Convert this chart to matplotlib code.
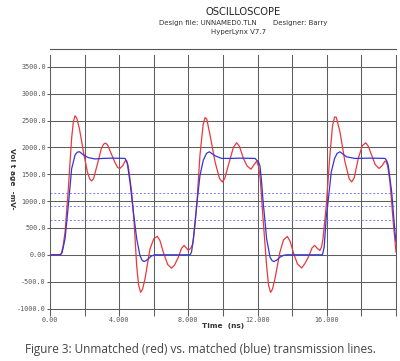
import matplotlib
matplotlib.use('Agg')
import matplotlib.pyplot as plt
from matplotlib.lines import Line2D

# unmatched line (red): time in ns, voltage in mV
red_t = [0.0, 0.55, 0.65, 0.75, 0.87, 1.06, 1.25, 1.35, 1.45, 1.55, 1.70, 1.93, 2.16, 2.30, 2.41, 2.52,
         2.70, 2.97, 3.10, 3.20, 3.32, 3.45, 3.74, 3.90, 4.03, 4.20, 4.35, 4.42, 4.53, 4.72, 4.86, 5.01,
         5.12, 5.24, 5.35, 5.49, 5.78, 6.00, 6.20, 6.35, 6.55, 6.80, 7.03, 7.20, 7.42, 7.60, 7.75, 7.90,
         8.00, 8.15, 8.25, 8.36, 8.48, 8.67, 8.85, 8.96, 9.06, 9.25, 9.54, 9.80, 9.96, 10.10, 10.31, 10.60,
         10.79, 10.95, 11.18, 11.40, 11.62, 11.80, 11.95, 12.05, 12.15, 12.33, 12.52, 12.63, 12.75, 12.86,
         13.00, 13.29, 13.50, 13.72, 13.88, 14.06, 14.30, 14.55, 14.72, 14.93, 15.15, 15.30, 15.45, 15.60,
         15.70, 15.78, 15.97, 16.18, 16.33, 16.45, 16.55, 16.76, 17.05, 17.30, 17.44, 17.58, 17.82, 18.05,
         18.25, 18.40, 18.59, 18.80, 19.02, 19.20, 19.35, 19.42, 19.52, 19.65, 19.84, 20.0]
red_v = [0, 0, 20, 150, 420, 1230, 2170, 2480, 2590, 2540, 2350, 1920, 1545, 1410, 1376, 1420,
         1640, 1980, 2060, 2080, 2050, 1950, 1730, 1630, 1605, 1660, 1750, 1760, 1640, 1170, 610, -200,
         -560, -700, -640, -450, 110, 300, 345, 270, 50, -180, -250, -190, -45, 120, 175, 120,
         80, 130, 200, 490, 920, 1860, 2420, 2555, 2530, 2230, 1730, 1420, 1357, 1420, 1670, 2000,
         2086, 2020, 1794, 1650, 1594, 1680, 1745, 1650, 1420, 610, -200, -560, -700, -640,
         -450, 50, 280, 342, 250, 50, -170, -245, -170, -45, 130, 175, 120, 80,
         150, 300, 920, 1860, 2400, 2565, 2560, 2290, 1730, 1410, 1357, 1430, 1794, 2030,
         2086, 2020, 1856, 1680, 1607, 1660, 1740, 1745, 1650, 1357, 610, 50]

# matched line (blue)
blue_t = [0.0, 0.60, 0.70, 0.87, 1.06, 1.25, 1.45, 1.58, 1.70, 1.93, 2.21, 2.60, 3.08, 3.60, 4.34, 4.47,
          4.62, 4.82, 5.01, 5.20, 5.32, 5.43, 5.55, 5.68, 5.85, 6.05, 7.00, 8.10, 8.18, 8.29, 8.48, 8.67,
          8.86, 9.05, 9.21, 9.38, 9.54, 9.92, 10.5, 11.0, 11.85, 11.95, 12.05, 12.14, 12.23, 12.33, 12.43,
          12.52, 12.72, 12.84, 12.95, 13.10, 13.29, 13.50, 13.68, 15.0, 15.75, 15.85, 15.97, 16.07, 16.26,
          16.45, 16.60, 16.76, 16.95, 17.15, 17.63, 18.5, 19.36, 19.45, 19.55, 19.75, 19.94, 20.0]
blue_v = [0, 0, 40, 300, 920, 1600, 1860, 1910, 1920, 1860, 1810, 1785, 1795, 1800, 1795, 1700,
          1360, 800, 300, -15, -100, -125, -110, -75, -25, 0, 0, 0, 50, 300, 920, 1480,
          1760, 1890, 1918, 1880, 1843, 1795, 1795, 1800, 1795, 1760, 1730, 1650, 1357, 950, 620,
          300, -45, -110, -125, -100, -45, -10, 0, 0, 0, 150, 700, 980, 1545,
          1794, 1890, 1918, 1870, 1824, 1794, 1800, 1795, 1760, 1669, 1170, 420, 250]

thresholds = [1150, 900, 650]
x_grid = list(range(0, 21, 2))
x_labels = {0: '0.00', 4: '4.000', 8: '8.000', 12: '12.000', 16: '16.000'}
y_ticks = [-1000, -500, 0, 500, 1000, 1500, 2000, 2500, 3000, 3500]
y_labels = ['-1000.0', '-500.0', '0.00', '500.0', '1000.0', '1500.0', '2000.0', '2500.0', '3000.0', '3500.0']

fig = plt.figure(figsize=(4.0, 3.61), dpi=100)
ax = fig.add_axes([0.125, 0.1454, 0.865, 0.7022])
gc = '#5e5e5e'

for y in thresholds:
    ax.axhline(y, color='#7f7ff0', lw=0.7, ls=(0, (2, 2)), zorder=2)
ax.plot(red_t, red_v, color='#e8393c', lw=0.9, zorder=3)
ax.plot(blue_t, blue_v, color='#3535d8', lw=0.9, zorder=4)

ax.set_xlim(0, 20); ax.set_ylim(-1000, 3720)
ax.set_xticks(x_grid)
ax.set_xticklabels([x_labels.get(x, '') for x in x_grid])
ax.set_yticks(y_ticks); ax.set_yticklabels(y_labels)
ax.grid(True, color=gc, lw=0.75, zorder=1)
ax.tick_params(axis='x', direction='out', length=5, width=0.75, color=gc, pad=1, labelsize=4.9, labelcolor='#555555')
ax.tick_params(axis='y', direction='out', length=2.5, width=0.75, color=gc, pad=0.5, labelsize=4.9, labelcolor='#555555')
for lab in ax.get_xticklabels() + ax.get_yticklabels():
    lab.set_family('DejaVu Sans Mono')
ax.spines['top'].set_visible(False)
for s in ['left', 'right', 'bottom']:
    ax.spines[s].set_color(gc); ax.spines[s].set_linewidth(0.75)

ax.set_xlabel('Time  (ns)', fontsize=5.3, fontweight='bold', color='#333333', labelpad=0)
fig.text(0.03, 0.505, 'Vol t age  -mV-', rotation=-90, fontsize=5.3, fontweight='bold', color='#333333',
         ha='center', va='center')

# header
fig.add_artist(Line2D([0.125, 0.99], [1 - 49/361, 1 - 49/361], color='#555555', lw=0.8))
fig.text(0.6075, 1 - 12/361, 'OSCILLOSCOPE', fontsize=7.2, ha='center', va='center', color='#222222')
fig.text(0.52, 1 - 23.5/361, 'Design file: UNNAMED0.TLN', fontsize=5.0, ha='center', va='center', color='#333333')
fig.text(0.75, 1 - 23.5/361, 'Designer: Barry', fontsize=5.0, ha='center', va='center', color='#333333')
fig.text(0.5975, 1 - 32/361, 'HyperLynx V7.7', fontsize=5.0, ha='center', va='center', color='#333333')

fig.text(0.5, 1 - 349/361, 'Figure 3: Unmatched (red) vs. matched (blue) transmission lines.',
         fontsize=8.5, family='Open Sans', ha='center', va='center', color='#444444')

fig.savefig('out.png', dpi=100)
